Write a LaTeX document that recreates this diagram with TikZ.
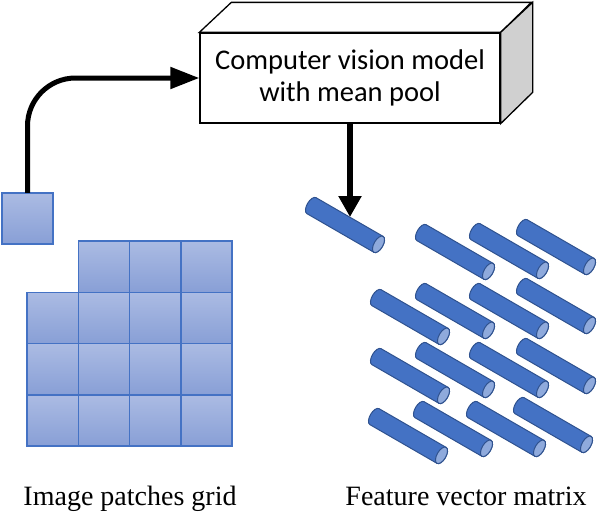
\documentclass[tikz,border=0pt]{standalone}
\usepackage{fontspec}
\setmainfont{Liberation Serif}
\newfontfamily\carlito{Carlito}
\usetikzlibrary{arrows.meta}
\definecolor{pedge}{HTML}{4472C4}
\definecolor{ptop}{HTML}{ABBBE3}
\definecolor{pbot}{HTML}{889FD6}
\definecolor{cylfill}{HTML}{4472C4}
\definecolor{cyledge}{HTML}{2F528F}
\definecolor{cylcap}{HTML}{8FAADC}
\definecolor{sideface}{HTML}{D0D0D0}
\tikzset{
  patch/.style={draw=pedge, line width=1.6pt, top color=ptop, bottom color=pbot,
    minimum size=51.3pt, inner sep=0pt, outer sep=0pt},
  modelbox/.style={draw=black, line width=1.3pt, fill=white, minimum width=300pt,
    minimum height=90pt, inner sep=0pt, align=center,
    font=\carlito\fontsize{28.5}{32}\selectfont},
  bigarrow/.style={line width=5pt, -{Triangle[length=29pt,width=21pt]}},
  downarrow/.style={line width=6pt, -{Triangle[length=21pt,width=22pt]}},
  caption/.style={font=\fontsize{28}{32}\selectfont, anchor=base},
  cyl/.pic={
    \draw[cyledge, line width=1pt, fill=cylfill]
      (-38.7,9.2) -- (38.7,9.2)
      arc[start angle=90, end angle=-90, x radius=4.5, y radius=9.2]
      -- (-38.7,-9.2)
      arc[start angle=270, end angle=90, x radius=4.5, y radius=9.2] -- cycle;
    \draw[cyledge, line width=1pt, fill=cylcap] (38.7,0) ellipse[x radius=4.5, y radius=9.2];
  }
}
\begin{document}
\begin{tikzpicture}[x=1pt, y=-1pt]
\useasboundingbox (0,0) rectangle (600,512);
% model box
\node[modelbox] (model) at (350,78) {Computer vision model\\with mean pool};
\draw[black, line width=1.3pt, fill=white] (model.north west) -- ++(32,-30) -- ++(300,0) -- (model.north east) -- cycle;
\draw[black, line width=1.3pt, fill=sideface] (model.north east) -- ++(32,-30) -- ++(0,90) -- (model.south east) -- cycle;
% single patch
\node[patch] (patch) at (27.5,218.5) {};
% grid
\foreach \c/\x in {1/52.65,2/103.95,3/155.25,4/206.55}{
  \foreach \r/\y in {2/317.95,3/369.25,4/420.55}{
    \node[patch] (g\r\c) at (\x,\y) {};
  }
}
\foreach \c/\x in {2/103.95,3/155.25,4/206.55}{
  \node[patch] (g1\c) at (\x,266.65) {};
}
% feature vectors
\pic[rotate=-30] at (345,225) {cyl};
\pic[rotate=-30] at (455,252) {cyl};
\pic[rotate=-30] at (509,251) {cyl};
\pic[rotate=-30] at (556,247) {cyl};
\pic[rotate=-30] at (410,317) {cyl};
\pic[rotate=-30] at (455,311) {cyl};
\pic[rotate=-30] at (509,311) {cyl};
\pic[rotate=-30] at (556,306) {cyl};
\pic[rotate=-30] at (410,376) {cyl};
\pic[rotate=-30] at (455,370) {cyl};
\pic[rotate=-30] at (509,370) {cyl};
\pic[rotate=-30] at (556,366) {cyl};
\pic[rotate=-30] at (408,436) {cyl};
\pic[rotate=-30] at (453,429) {cyl};
\pic[rotate=-30] at (506,429) {cyl};
\pic[rotate=-30] at (553,425) {cyl};
\coordinate (v0) at (350,217);
% arrows
\draw[bigarrow, rounded corners=48pt] (patch.north) |- (model.west);
\draw[downarrow] (model.south) -- (v0);
% captions
\node[caption] (cap1) at (130,505) {Image patches grid};
\node[caption] (cap2) at (466,505) {Feature vector matrix};
\end{tikzpicture}
\end{document}
